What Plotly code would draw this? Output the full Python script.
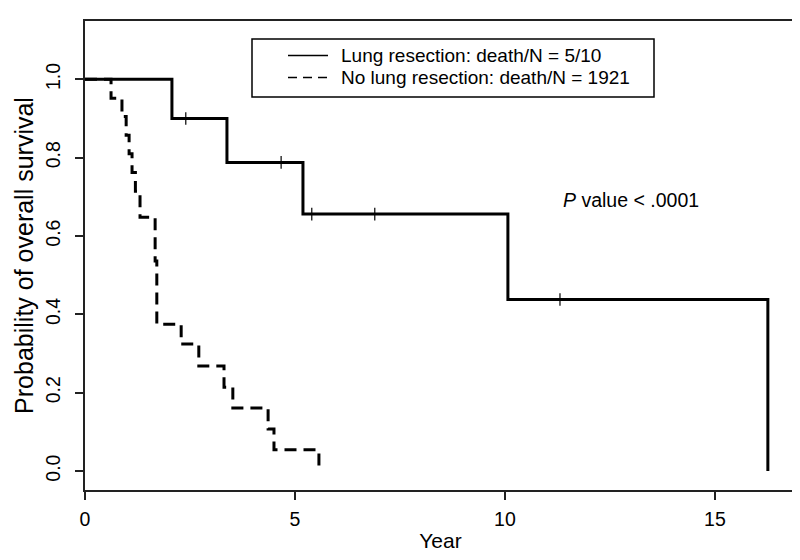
import plotly.graph_objects as go

# Lung resection group (Kaplan-Meier step points)
lung_t = [0.0, 2.07, 3.38, 5.19, 10.07, 16.26]
lung_s = [1.0, 0.900, 0.788, 0.656, 0.438, 0.0]
lung_cens_t = [2.4, 4.67, 5.4, 6.9, 11.31]
lung_cens_s = [0.900, 0.788, 0.656, 0.656, 0.438]

# No lung resection group
nolung_t = [0.0, 0.62, 0.88, 0.98, 1.05, 1.12, 1.20, 1.31, 1.67, 1.71, 2.29, 2.71, 3.31, 3.52, 4.36, 4.50, 5.57]
nolung_s = [1.0, 0.952, 0.905, 0.857, 0.810, 0.762, 0.714, 0.648, 0.536, 0.375, 0.324, 0.268, 0.214, 0.161, 0.107, 0.054, 0.0]

x_ticks = [0, 5, 10, 15]
y_ticks = [0.0, 0.2, 0.4, 0.6, 0.8, 1.0]
y_tick_labels = ["0.0", "0.2", "0.4", "0.6", "0.8", "1.0"]

legend_labels = ["Lung resection: death/N = 5/10", "No lung resection: death/N = 1921"]
p_text = "<i>P</i> value &lt; .0001"

FONT = "Liberation Sans, Arial, Helvetica, sans-serif"
W, H = 800, 560
ML, MR, MT, MB = 77, 12, 13, 78
PW, PH = W - ML - MR, H - MT - MB


def px(xp):
    return (xp - ML) / PW


def py(yp):
    return (H - MB - yp) / PH


fig = go.Figure()
fig.add_trace(go.Scatter(x=lung_t, y=lung_s, mode="lines", line=dict(shape="hv", color="black", width=3),
                         name=legend_labels[0], showlegend=False))
fig.add_trace(go.Scatter(x=lung_cens_t, y=lung_cens_s, mode="markers",
                         marker=dict(symbol="line-ns", size=9, line=dict(width=1.2, color="black")),
                         showlegend=False))
fig.add_trace(go.Scatter(x=nolung_t, y=nolung_s, mode="lines",
                         line=dict(shape="hv", color="black", width=3, dash="12px,7px"),
                         name=legend_labels[1], showlegend=False))

# P value text
fig.add_annotation(x=13.0, y=0.692, text=p_text, showarrow=False,
                   font=dict(family=FONT, size=19.5, color="black"))

# Manual legend (box, line samples, labels) in paper coordinates
fig.add_shape(type="rect", xref="paper", yref="paper", x0=px(244), x1=px(646), y0=py(89), y1=py(31),
              line=dict(color="black", width=1.5), fillcolor="white")
row_y = [py(47.5), py(69.5)]
fig.add_shape(type="line", xref="paper", yref="paper", x0=px(280), x1=px(320), y0=row_y[0], y1=row_y[0],
              line=dict(color="black", width=1.5))
fig.add_shape(type="line", xref="paper", yref="paper", x0=px(280), x1=px(320), y0=row_y[1], y1=row_y[1],
              line=dict(color="black", width=1.5, dash="9px,6px"))
for lbl, yy in zip(legend_labels, row_y):
    fig.add_annotation(xref="paper", yref="paper", x=px(332), y=yy, text=lbl,
                       showarrow=False, xanchor="left", yanchor="middle", borderpad=0,
                       font=dict(family=FONT, size=19, color="black"))

fig.update_layout(
    width=W, height=H,
    margin=dict(l=ML, r=MR, t=MT, b=MB),
    paper_bgcolor="white", plot_bgcolor="white",
    font=dict(family=FONT, color="black"),
    showlegend=False,
)
fig.update_xaxes(range=[0, 16.93], tickvals=x_ticks, ticktext=[str(v) for v in x_ticks],
                 automargin=False,
                 showgrid=False, zeroline=False, showline=True, linecolor="#222", linewidth=1.5,
                 mirror=True, ticks="outside", ticklen=8, tickwidth=1.5, tickcolor="#222",
                 ticklabelstandoff=3,
                 tickfont=dict(size=19.5, family=FONT),
                 title=dict(text="Year", font=dict(size=21, family=FONT), standoff=4))
fig.update_yaxes(range=[-0.0485, 1.149], tickvals=y_ticks, ticktext=y_tick_labels,
                 automargin=False,
                 showgrid=False, zeroline=False, showline=True, linecolor="#222", linewidth=1.5,
                 mirror=True, ticks="outside", ticklen=8, tickwidth=1.5, tickcolor="#222",
                 ticklabelstandoff=7,
                 tickangle=-90, tickfont=dict(size=19.5, family=FONT),
                 title=dict(text="Probability of overall survival", font=dict(size=25, family=FONT), standoff=2))

fig.write_html("out.html")
